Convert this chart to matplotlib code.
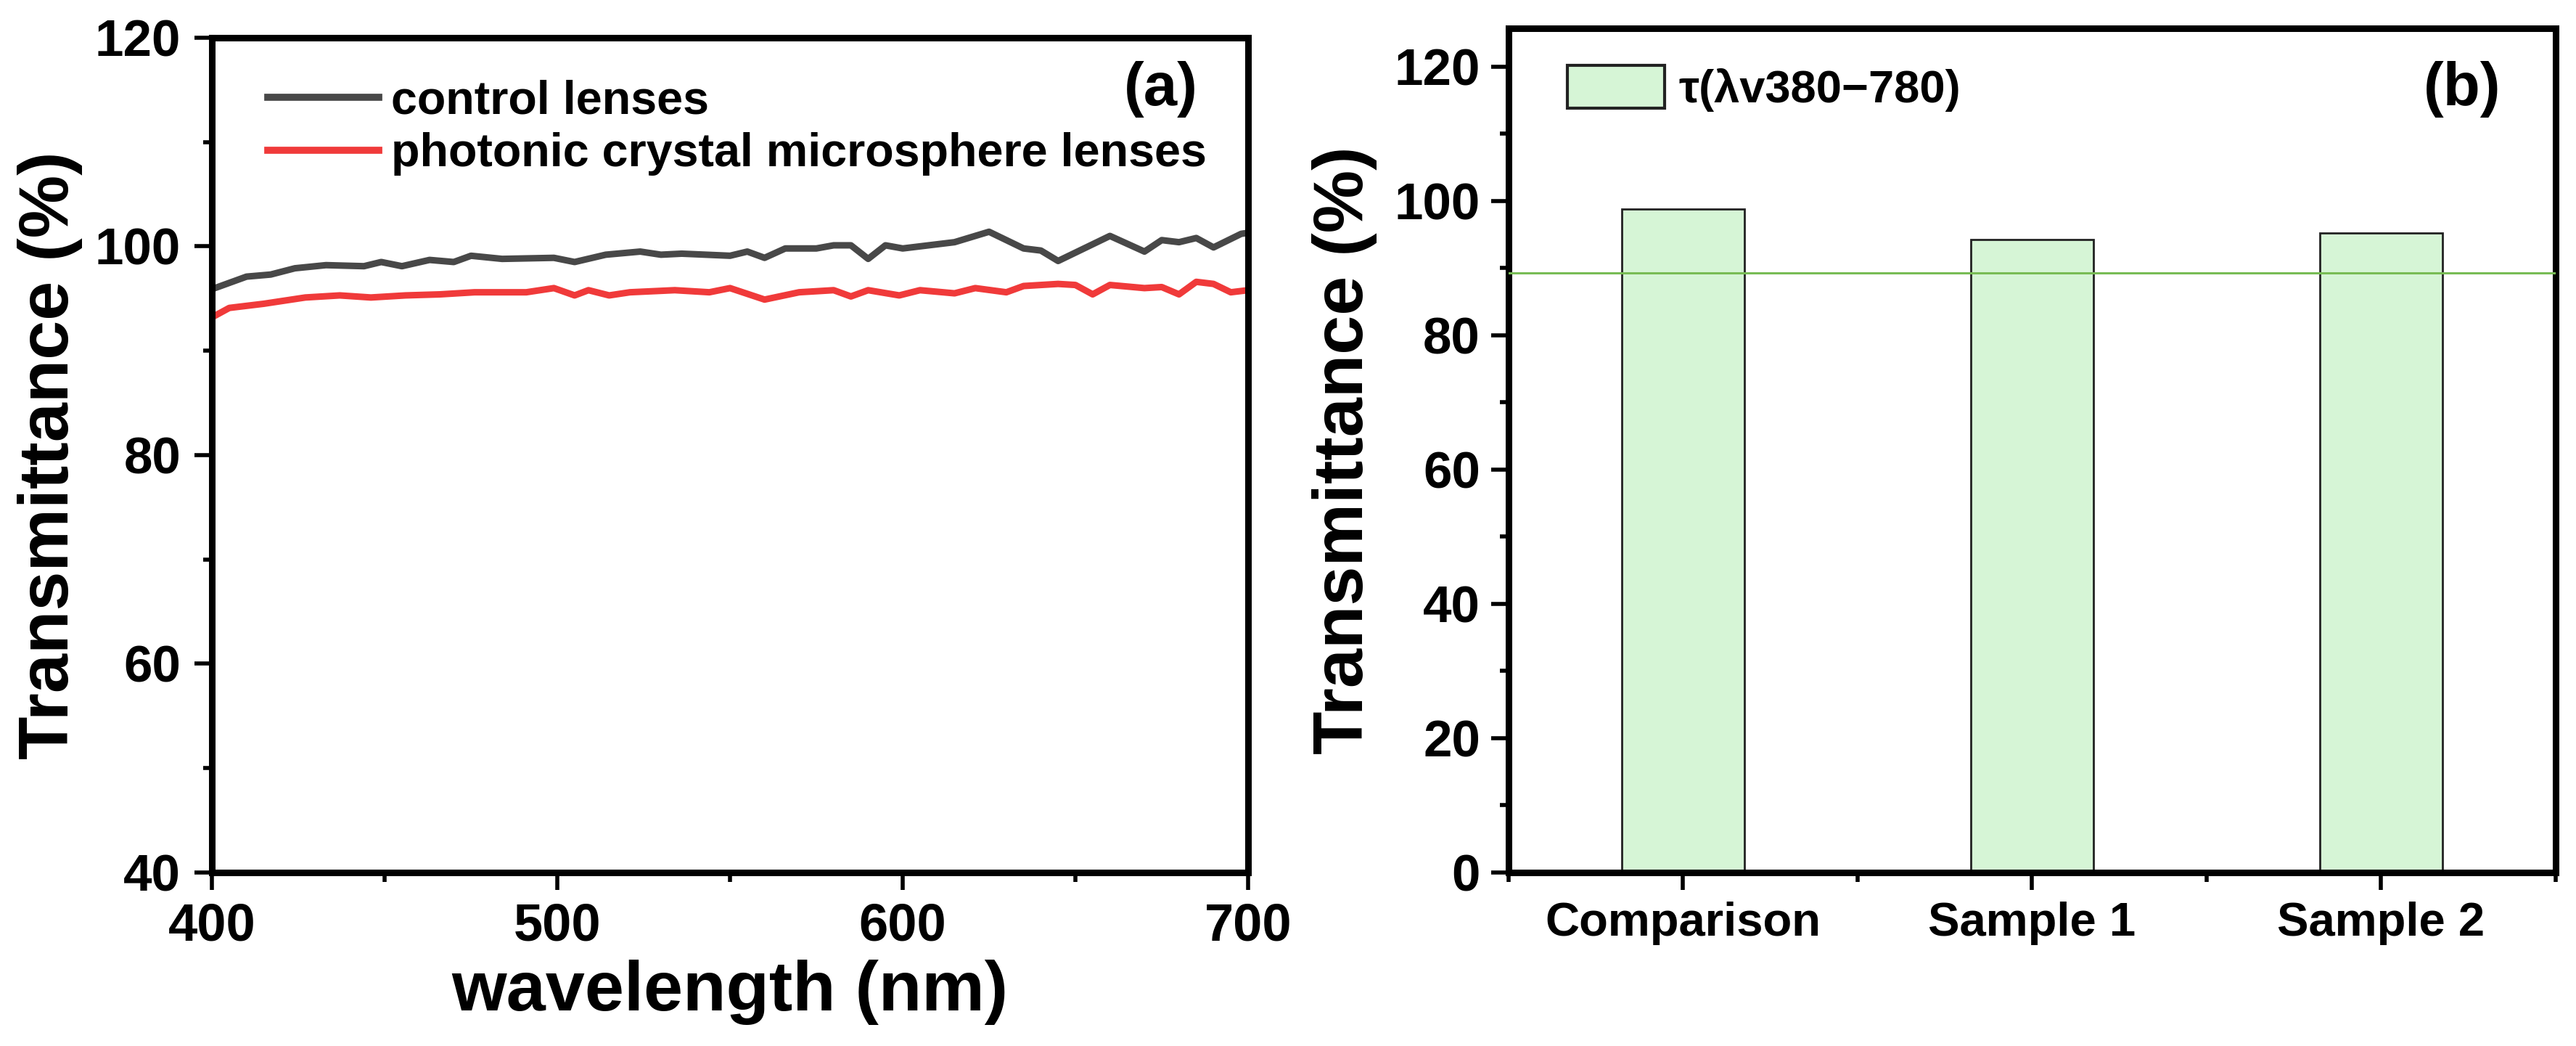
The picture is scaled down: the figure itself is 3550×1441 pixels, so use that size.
import numpy as np
import matplotlib
matplotlib.use("Agg")
import matplotlib.pyplot as plt
from matplotlib import font_manager
from matplotlib.ticker import MultipleLocator, FixedLocator

plt.rcParams['font.family'] = ['Liberation Sans', 'DejaVu Sans']
plt.rcParams['font.weight'] = 'bold'

# legend / panel letters look condensed in the original -> narrow face if we have it
_names = {f.name for f in font_manager.fontManager.ttflist}
HAS_NARROW = 'Liberation Sans Narrow' in _names
if HAS_NARROW:
    LEG_FAM = ['Liberation Sans Narrow', 'Liberation Sans', 'DejaVu Sans']
    LEG_A_SIZE, LEG_B_SIZE, PANEL_SIZE = 55, 54, 68
else:
    LEG_FAM = ['Liberation Sans', 'DejaVu Sans']
    LEG_A_SIZE, LEG_B_SIZE, PANEL_SIZE = 46.5, 45.5, 60

# ===== panel (a): transmittance spectra =====
wl_control = [400, 410, 417, 424, 433, 444, 449, 455, 463, 470, 475, 484, 499, 505,
              514, 524, 530, 536, 550, 555, 560, 566, 575, 580, 585, 590, 595, 600,
              615, 625, 635, 640, 645, 660, 670, 675, 680, 685, 690, 698, 700]
t_control = [95.9, 97.1, 97.3, 97.9, 98.2, 98.1, 98.5, 98.1, 98.7, 98.5, 99.1, 98.8, 98.9, 98.5,
             99.2, 99.5, 99.2, 99.3, 99.1, 99.5, 98.9, 99.8, 99.8, 100.1, 100.1, 98.8, 100.1, 99.8,
             100.4, 101.4, 99.8, 99.6, 98.6, 101.0, 99.5, 100.6, 100.4, 100.8, 99.9, 101.2, 101.3]

wl_pc = [400, 405, 415, 427, 437, 446, 456, 466, 476, 491, 499, 505, 509, 515,
         521, 534, 544, 550, 560, 570, 580, 585, 590, 599, 605, 615, 621, 630,
         635, 645, 650, 655, 660, 670, 675, 680, 685, 690, 695, 700]
t_pc = [93.2, 94.1, 94.5, 95.1, 95.3, 95.1, 95.3, 95.4, 95.6, 95.6, 96.0, 95.3, 95.8, 95.3,
        95.6, 95.8, 95.6, 96.0, 94.9, 95.6, 95.8, 95.2, 95.8, 95.3, 95.8, 95.5, 96.0, 95.6,
        96.2, 96.4, 96.3, 95.4, 96.3, 96.0, 96.1, 95.4, 96.6, 96.4, 95.6, 95.8]

# ===== panel (b): integrated visible transmittance =====
samples = ['Comparison', 'Sample 1', 'Sample 2']
tau_v = [98.8, 94.2, 95.2]
ref_level = 89.3

GRAY = '#484848'
RED = '#F03A3A'
BAR_FILL = '#D6F5D6'
REF_GREEN = '#78BC55'

fig = plt.figure(figsize=(35.5, 14.41), dpi=100)
ax1 = fig.add_axes([0.0823, 0.1659, 0.4022, 0.7981])
ax2 = fig.add_axes([0.5856, 0.1659, 0.4065, 0.8071])


def style_axes(ax):
    for sp in ax.spines.values():
        sp.set_linewidth(6.5)
    ax.tick_params(which='major', direction='out', length=17, width=4,
                   top=False, right=False)
    ax.tick_params(which='minor', direction='out', length=9, width=4,
                   top=False, right=False)


# ----- (a) -----
ax1.plot(wl_control, t_control, color=GRAY, lw=6.5, label='control lenses')
ax1.plot(wl_pc, t_pc, color=RED, lw=6.5, label='photonic crystal microsphere lenses')
ax1.set_xlim(400, 700)
ax1.set_ylim(40, 120)
ax1.xaxis.set_major_locator(MultipleLocator(100))
ax1.xaxis.set_minor_locator(MultipleLocator(50))
ax1.yaxis.set_major_locator(MultipleLocator(20))
ax1.yaxis.set_minor_locator(MultipleLocator(10))
style_axes(ax1)
ax1.tick_params(axis='x', which='major', labelsize=52, pad=12)
ax1.tick_params(axis='y', which='major', labelsize=51, pad=14)
ax1.set_xlabel('wavelength (nm)', fontsize=70, fontweight='bold')
ax1.set_ylabel('Transmittance (%)', fontsize=70, fontweight='bold')
ax1.xaxis.set_label_coords(0.5, -0.104)
ax1.yaxis.set_label_coords(-0.125, 0.5)
leg1 = ax1.legend(loc='upper left', bbox_to_anchor=(0.054, 0.950), frameon=False,
                  prop={'family': LEG_FAM, 'weight': 'bold', 'size': LEG_A_SIZE},
                  handlelength=110 / LEG_A_SIZE, handletextpad=12 / LEG_A_SIZE,
                  labelspacing=0.2, borderpad=0, borderaxespad=0)
for ln in leg1.get_lines():
    ln.set_linewidth(7)
ax1.text(0.916, 0.938, '(a)', transform=ax1.transAxes, family=LEG_FAM,
         fontsize=PANEL_SIZE, fontweight='bold', ha='center', va='center')

# ----- (b) -----
x = np.arange(len(samples))
ax2.bar(x, tau_v, width=0.35, color=BAR_FILL, edgecolor='#222222', linewidth=2,
        label='\u03c4(\u03bbv380\u2212780)', zorder=2)
ax2.axhline(ref_level, color=REF_GREEN, lw=2.2, zorder=3)
ax2.set_xlim(-0.5, 2.5)
ax2.set_ylim(0, 125.7)
ax2.set_xticks(x)
ax2.set_xticklabels(samples)
ax2.xaxis.set_minor_locator(FixedLocator([-0.5, 0.5, 1.5, 2.5]))
ax2.yaxis.set_major_locator(MultipleLocator(20))
ax2.yaxis.set_minor_locator(MultipleLocator(10))
style_axes(ax2)
ax2.tick_params(axis='x', which='major', labelsize=47, pad=12)
ax2.tick_params(axis='y', which='major', labelsize=51, pad=11)
ax2.set_ylabel('Transmittance (%)', fontsize=70, fontweight='bold')
ax2.yaxis.set_label_coords(-0.125, 0.5)
leg2 = ax2.legend(loc='upper left', bbox_to_anchor=(0.056, 0.956), frameon=False,
                  prop={'family': LEG_FAM, 'weight': 'bold', 'size': LEG_B_SIZE},
                  handlelength=97 / LEG_B_SIZE, handleheight=48 / LEG_B_SIZE,
                  handletextpad=14 / LEG_B_SIZE, borderpad=0, borderaxespad=0)
for p in leg2.get_patches():
    p.set_linewidth(3)
ax2.text(0.911, 0.928, '(b)', transform=ax2.transAxes, family=LEG_FAM,
         fontsize=PANEL_SIZE, fontweight='bold', ha='center', va='center')

fig.savefig('out.png', dpi=100)
